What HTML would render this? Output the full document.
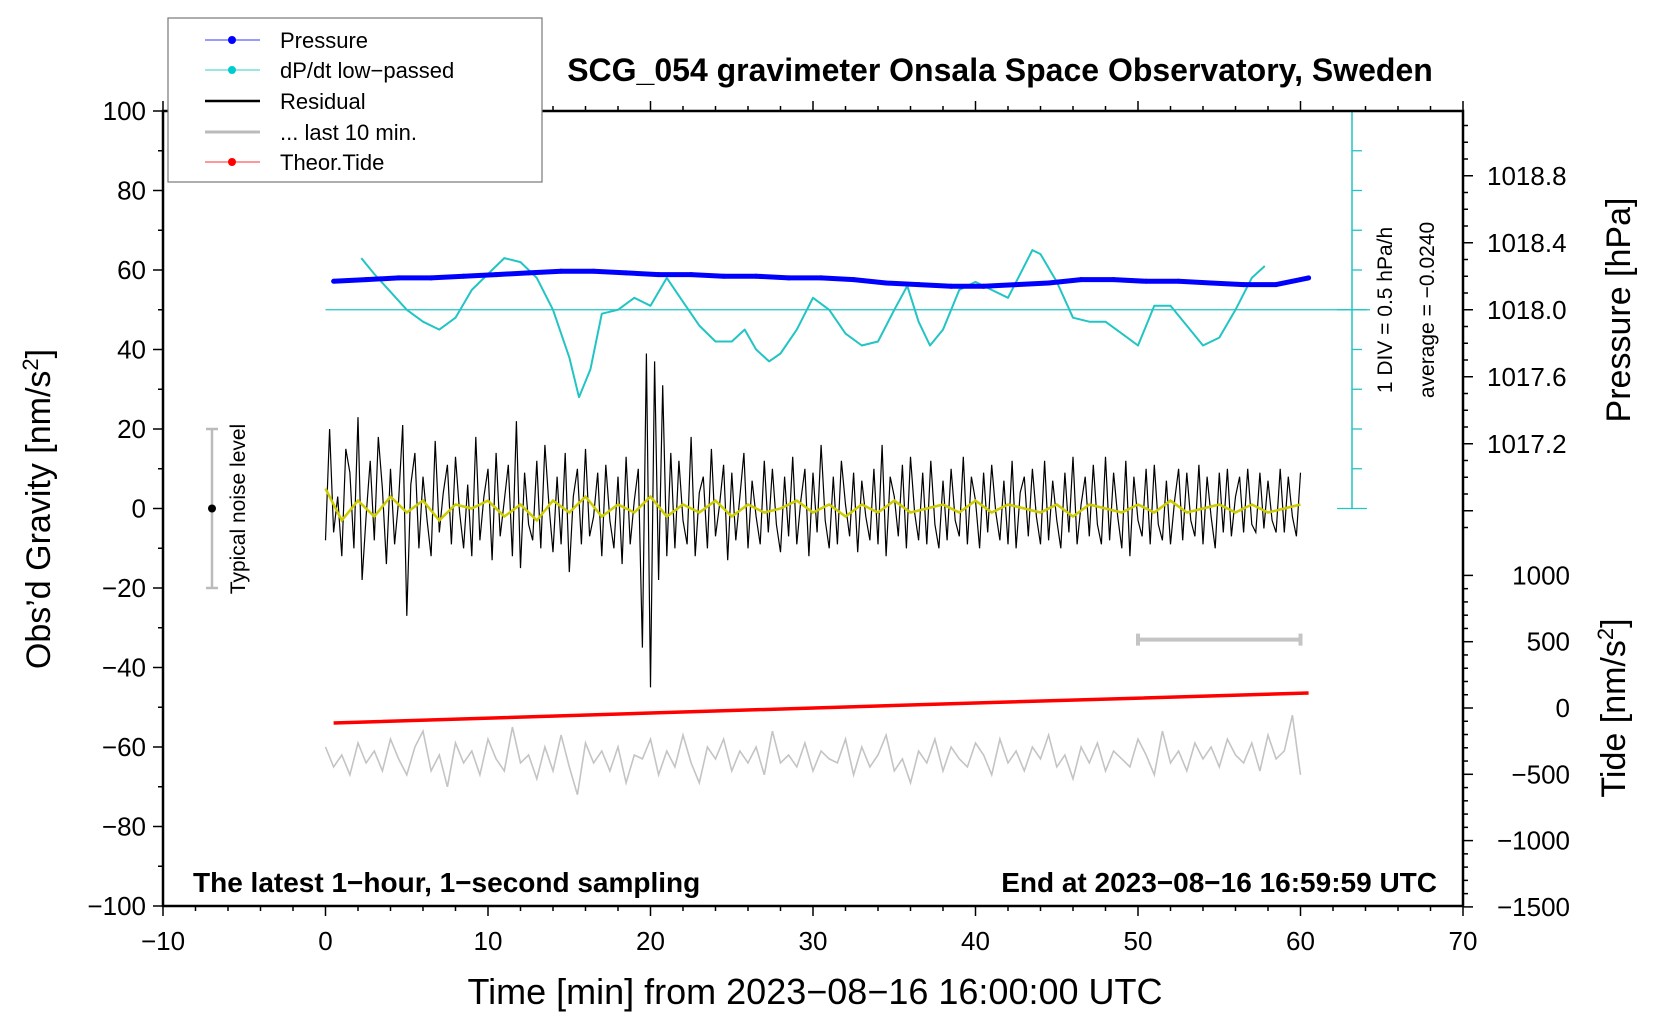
<!DOCTYPE html>
<html><head><meta charset="utf-8"><style>
html,body{margin:0;padding:0;background:#fff;}
svg{display:block;font-family:"Liberation Sans",Arial,sans-serif;}
</style></head><body>
<svg id="chart" width="1660" height="1020" viewBox="0 0 1660 1020" xmlns="http://www.w3.org/2000/svg">
<rect width="1660" height="1020" fill="#fff"/>
<g id="marks"></g>
<g id="axes"></g>
<text x="1000" y="81" font-size="32" font-weight="bold" text-anchor="middle">SCG_054 gravimeter Onsala Space Observatory, Sweden</text>
<text x="193" y="892" font-size="28" font-weight="bold">The latest 1−hour, 1−second sampling</text>
<text x="1437" y="892" font-size="28" font-weight="bold" text-anchor="end">End at 2023−08−16 16:59:59 UTC</text>
<text x="815" y="1004" font-size="36" text-anchor="middle">Time [min] from 2023−08−16 16:00:00 UTC</text>
<text transform="translate(50,509) rotate(-90)" font-size="34" text-anchor="middle">Obs’d Gravity [nm/s<tspan font-size="22" dy="-12">2</tspan><tspan dy="12">]</tspan></text>
<text transform="translate(1630,310) rotate(-90)" font-size="34" text-anchor="middle">Pressure [hPa]</text>
<text transform="translate(1625,708) rotate(-90)" font-size="34" text-anchor="middle">Tide [nm/s<tspan font-size="22" dy="-12">2</tspan><tspan dy="12">]</tspan></text>
<text transform="translate(1392,310) rotate(-90)" font-size="21" text-anchor="middle">1 DIV = 0.5 hPa/h</text>
<text transform="translate(1434,310) rotate(-90)" font-size="21" text-anchor="middle">average = −0.0240</text>
<text transform="translate(245,509) rotate(-90)" font-size="21" text-anchor="middle">Typical noise level</text>
<g>
<rect x="168" y="18" width="374" height="164" fill="#fff" stroke="#777" stroke-width="1.2"/>
<line x1="205" y1="40" x2="260" y2="40" stroke="#3333ff" stroke-width="1"/><circle cx="232" cy="40" r="4" fill="#00f"/>
<text x="280" y="48" font-size="22">Pressure</text>
<line x1="205" y1="70" x2="260" y2="70" stroke="#33cccc" stroke-width="1"/><circle cx="232" cy="70" r="4" fill="#0cc"/>
<text x="280" y="78" font-size="22">dP/dt low−passed</text>
<line x1="205" y1="101" x2="260" y2="101" stroke="#000" stroke-width="2.5"/>
<text x="280" y="109" font-size="22">Residual</text>
<line x1="205" y1="132" x2="260" y2="132" stroke="#bbb" stroke-width="3"/>
<text x="280" y="140" font-size="22">... last 10 min.</text>
<line x1="205" y1="162" x2="260" y2="162" stroke="#f33" stroke-width="1"/><circle cx="232" cy="162" r="4" fill="#f00"/>
<text x="280" y="170" font-size="22">Theor.Tide</text>
</g>
</svg>
<script>
// ---- data ----
const xTicks = [-10,0,10,20,30,40,50,60,70];
const yTicks = [100,80,60,40,20,0,-20,-40,-60,-80,-100];
const pressureTicks = [1018.8,1018.4,1018.0,1017.6,1017.2];
const tideTicks = [1000,500,0,-500,-1000,-1500];
const dpdtTime = [2.2,3,5,6,7,8,9,10,11,12,13,14,15,15.6,16.3,17,18,19,20,21,22,23,24,25,25.8,26.5,27.3,28,29,30,31,32,33,34,35,35.8,36.5,37.2,38,39,40,41,42,43.5,44,45,46,47,48,49,50,51,52,53,54,55,56,57,57.8];
const dpdtValues = [63,59,50,47,45,48,55,59,63,62,58,50,38,28,35,49,50,53,51,58,52,46,42,42,45,40,37,39,45,53,50,44,41,42,50,56,47,41,45,55,57,55,53,65,64,57,48,47,47,44,41,51,51,46,41,43,50,58,61];
const pressureValues = [1018.17,1018.18,1018.19,1018.19,1018.20,1018.21,1018.22,1018.23,1018.23,1018.22,1018.21,1018.21,1018.20,1018.20,1018.19,1018.19,1018.18,1018.16,1018.15,1018.14,1018.14,1018.15,1018.16,1018.18,1018.18,1018.17,1018.17,1018.16,1018.15,1018.15,1018.19];
const residualValues = [-8,20,-6,3,-12,15,9,-10,23,-18,-2,12,-8,18,5,-14,10,-9,2,21,-27,6,14,-10,8,
-3,-12,17,-6,4,11,-9,13,-1,-10,6,-12,18,-8,3,10,-13,14,-7,2,11,-12,22,-15,9,
-4,-8,12,-10,16,1,-11,8,-9,14,-16,3,10,-9,15,-7,-2,9,-12,11,-3,-10,8,-14,13,
-9,2,10,-35,39,-45,37,-18,31,-12,14,-10,12,-3,-9,18,-12,4,8,-10,15,-7,1,11,-13,
9,-8,3,14,-10,7,-2,-9,12,-6,10,-4,-11,8,-7,13,-9,2,10,-12,9,-6,16,-3,-10,
8,-9,12,1,-7,9,-11,7,-2,-8,10,-9,16,-12,8,3,-7,11,-10,13,-1,-8,9,-9,12,
-4,-10,7,-8,10,-3,-7,13,-9,8,2,-10,9,-6,11,-1,-8,7,-9,12,-10,4,8,-7,10,
-2,-9,12,-8,7,-3,-10,9,-6,13,-9,1,8,-7,11,-4,-9,13,-8,9,-2,-10,12,-12,8,
-3,-7,10,-9,11,-4,-8,7,-9,2,10,-8,9,-3,-7,11,-9,8,-2,-10,9,-6,10,-7,3,
8,-6,10,-4,-6,9,-5,7,-3,-6,10,-6,8,-2,-7,9];
const smoothValues = [5,-3,2,-2,3,-1,2,-3,1,0,2,-2,1,-3,2,-1,3,-2,1,-1,3,-2,1,-1,2,-2,1,-1,0,2,-1,1,-2,1,-1,2,-1,0,1,-1,2,-1,1,0,-1,1,-2,1,0,-1,1,-1,2,-1,0,1,-1,1,-1,0,1];
const last10Values = [-60,-65,-62,-67,-59,-64,-61,-66,-58,-63,-67,-60,-56,-66,-62,-70,-59,-64,-61,-67,-58,-63,-66,-55,-64,-62,-68,-60,-66,-57,-65,-72,-59,-64,-61,-66,-60,-69,-62,-63,-58,-67,-61,-65,-57,-64,-69,-60,-63,-58,-66,-61,-64,-60,-67,-56,-64,-62,-65,-59,-66,-61,-63,-64,-58,-67,-60,-65,-62,-57,-66,-63,-69,-61,-64,-58,-66,-60,-63,-65,-59,-62,-67,-58,-64,-61,-66,-60,-63,-57,-65,-62,-68,-60,-64,-59,-66,-61,-63,-65,-58,-62,-67,-56,-64,-61,-66,-59,-63,-60,-65,-58,-62,-64,-59,-66,-57,-63,-61,-52,-67];
const tideTime = [0.5,20,40,60.5];
const tideValues = [-113,-38,38,113];

// ---- axes functions ----
const X0=163, X1=1463, Y0=111, Y1=906;
const xs = t => X0 + (t+10)/80*(X1-X0);
const ys = g => Y0 + (100-g)/200*(Y1-Y0);
const yp = p => ys(50) - (p-1018)*167.5;
const yt = v => 708 - v*0.1326;
const NS='http://www.w3.org/2000/svg';
const marks=document.getElementById('marks'), axes=document.getElementById('axes');
function mk(tag, attrs, parent){const e=document.createElementNS(NS,tag);for(const k in attrs)e.setAttribute(k,attrs[k]);parent.appendChild(e);return e;}
function pts(arr){return arr.map(p=>p[0].toFixed(1)+','+p[1].toFixed(1)).join(' ');}

let e;
e=mk('line',{x1:xs(0),y1:ys(50),x2:1370,y2:ys(50),stroke:'#22c4c4','stroke-width':1.3},marks);


e=mk('line',{x1:1352,y1:ys(100),x2:1352,y2:ys(0),stroke:'#22c4c4','stroke-width':1.5},marks);


for(let g=0; g<=100; g+=10){
  e=mk('line',{x1:g%50===0?1337:1352,y1:ys(g),x2:g%50===0?1367:1362,y2:ys(g),stroke:'#22c4c4','stroke-width':1.3},marks);
  
  
}

const nL=last10Values.length;
e=mk('polyline',{points:pts(last10Values.map((v,i)=>[xs(i*60/(nL-1)),ys(v)])),fill:'none',stroke:'#c4c4c4','stroke-width':1.6},marks);


e=mk('path',{d:`M${xs(50)},${ys(-33)}H${xs(60)}M${xs(50)},${ys(-33)-6}V${ys(-33)+6}M${xs(60)},${ys(-33)-6}V${ys(-33)+6}`,stroke:'#c4c4c4','stroke-width':4,fill:'none'},marks);



e=mk('polyline',{points:pts(tideTime.map((t,i)=>[xs(t),yt(tideValues[i])])),fill:'none',stroke:'#f00','stroke-width':3.5},marks);



const nR=residualValues.length;
e=mk('polyline',{points:pts(residualValues.map((v,i)=>[xs(i*60/(nR-1)),ys(v)])),fill:'none',stroke:'#000','stroke-width':1.2},marks);


const nS=smoothValues.length;
e=mk('polyline',{points:pts(smoothValues.map((v,i)=>[xs(i*60/(nS-1)),ys(v)])),fill:'none',stroke:'#cccc00','stroke-width':2.5},marks);



e=mk('polyline',{points:pts(dpdtTime.map((t,i)=>[xs(t),ys(dpdtValues[i])])),fill:'none',stroke:'#22c4c4','stroke-width':2,'stroke-linejoin':'round'},marks);



const pp=pressureValues.map((v,i)=>[xs(0.5+i*2),yp(v)]);
e=mk('polyline',{points:pts(pp),fill:'none',stroke:'#0000ff','stroke-width':5,'stroke-linejoin':'round'},marks);


pressureValues.forEach((v,i)=>{
  const c=mk('circle',{cx:xs(0.5+i*2),cy:yp(v),r:2.5,fill:'#00f'},marks);
  
  
});

e=mk('path',{d:`M212,${ys(20)}V${ys(-20)}M206,${ys(20)}H218M206,${ys(-20)}H218`,stroke:'#bbb','stroke-width':2.5,fill:'none'},marks);


e=mk('circle',{cx:212,cy:ys(0),r:4,fill:'#000'},marks);



e=mk('rect',{x:X0,y:Y0,width:X1-X0,height:Y1-Y0,fill:'none',stroke:'#000','stroke-width':2.5},axes);


for(let t=-10;t<=70;t+=2){
  const big=t%10===0;
  mk('line',{x1:xs(t),y1:Y1,x2:xs(t),y2:Y1+(big?10:5),stroke:'#000','stroke-width':1.5},axes);
  mk('line',{x1:xs(t),y1:Y0,x2:xs(t),y2:Y0-(big?10:5),stroke:'#000','stroke-width':1.5},axes);
}
xTicks.forEach(t=>{
  const tx=mk('text',{x:xs(t),y:Y1+44,'font-size':26,'text-anchor':'middle'},axes);
  tx.textContent=String(t).replace('-','−');
  
  
});
for(let g=-100;g<=100;g+=10){
  mk('line',{x1:X0,y1:ys(g),x2:X0-(g%20===0?10:5),y2:ys(g),stroke:'#000','stroke-width':1.5},axes);
}
yTicks.forEach(g=>{
  const tx=mk('text',{x:X0-17,y:ys(g)+9,'font-size':26,'text-anchor':'end'},axes);
  tx.textContent=String(g).replace('-','−');
  
  
});
for(let k=0;k<=24;k++){
  const p=1019.1-k*0.1; const y=yp(p);
  if(y<Y0-1||y>ys(0)+30) continue;
  const big=Math.abs(Math.round(p*10)%4)===0;
  mk('line',{x1:X1,y1:y,x2:X1+(big?10:5),y2:y,stroke:'#000','stroke-width':1.5},axes);
}
pressureTicks.forEach(p=>{
  const tx=mk('text',{x:X1+24,y:yp(p)+9,'font-size':26},axes);
  tx.textContent=p.toFixed(1);
  
  
});
for(let v=-1500;v<=1000;v+=100){
  const big=v%500===0;
  mk('line',{x1:X1,y1:yt(v),x2:X1+(big?10:5),y2:yt(v),stroke:'#000','stroke-width':1.5},axes);
}
tideTicks.forEach(v=>{
  const tx=mk('text',{x:1570,y:yt(v)+9,'font-size':26,'text-anchor':'end'},axes);
  tx.textContent=String(v).replace('-','−');
  
  
});
</script>
</body></html>
